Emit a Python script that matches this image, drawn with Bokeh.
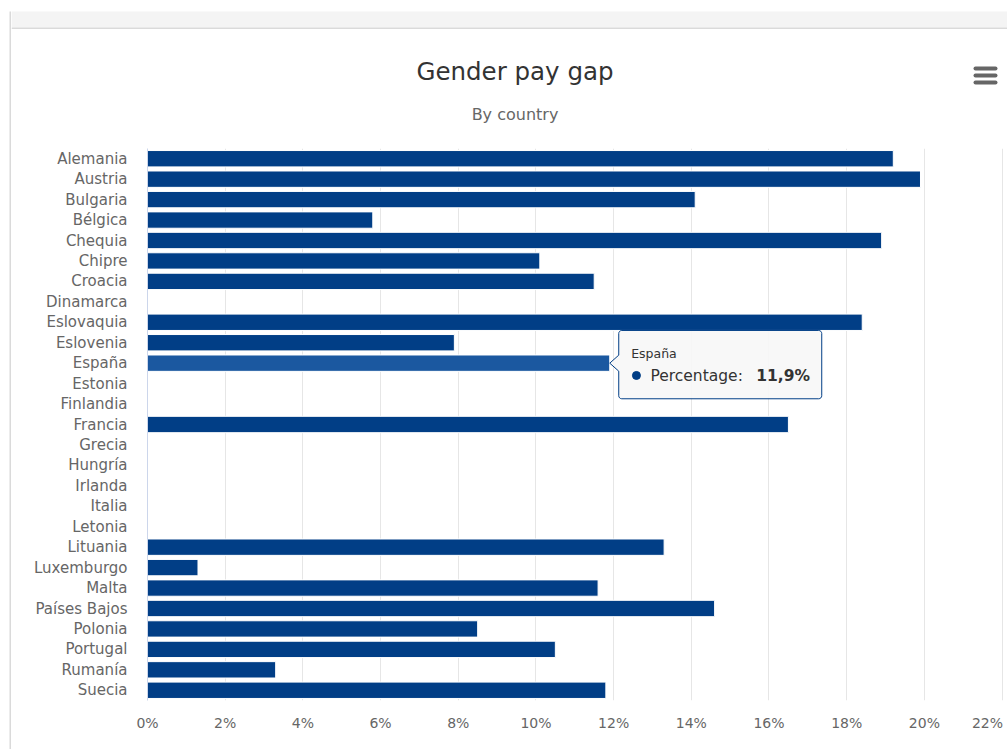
import math
from bokeh.plotting import figure
from bokeh.models import (FactorRange, Range1d, FixedTicker, ColumnDataSource,
                          PrintfTickFormatter)
from bokeh.layouts import row, column
from bokeh.core.properties import value
from bokeh.embed import file_html
from bokeh.resources import INLINE

# ---------------- data ----------------
countries = ["Alemania", "Austria", "Bulgaria", "Bélgica", "Chequia", "Chipre", "Croacia",
             "Dinamarca", "Eslovaquia", "Eslovenia", "España", "Estonia", "Finlandia",
             "Francia", "Grecia", "Hungría", "Irlanda", "Italia", "Letonia", "Lituania",
             "Luxemburgo", "Malta", "Países Bajos", "Polonia", "Portugal", "Rumanía", "Suecia"]
percentages = [19.2, 19.9, 14.1, 5.8, 18.9, 10.1, 11.5,
               None, 18.4, 7.9, 11.9, None, None,
               16.5, None, None, None, None, None, 13.3,
               1.3, 11.6, 14.6, 8.5, 10.5, 3.3, 11.8]
x_ticks = [0, 2, 4, 6, 8, 10, 12, 14, 16, 18, 20, 22]
title_text = "Gender pay gap"
subtitle_text = "By country"
series_name = "Percentage"
hovered_country = "España"

# ---------------- styling / layout ----------------
FONT = "DejaVu Sans"
BAR = "#013e86"
BAR_HOVER = "#1b58a0"
PAGE_W, PAGE_H = 1007, 749
STRIP_W = 11
HEAD_H = 140
W, H = PAGE_W - STRIP_W, PAGE_H - HEAD_H
ML, MR, MT, MB = 136, 0, 8, 49
X_END = 22.14
n = len(countries)


def bare(fig):
    fig.grid.visible = False
    fig.outline_line_color = None
    fig.frame_align = False
    return fig


# left border strip of the chart container
strip = bare(figure(width=STRIP_W, height=PAGE_H, x_range=Range1d(0, STRIP_W),
                    y_range=Range1d(PAGE_H, 0), output_backend="svg", toolbar_location=None,
                    min_border=0, x_axis_location=None, y_axis_location=None, title=None))
strip.quad(left=[9], right=[11], top=[11], bottom=[PAGE_H], fill_color="#dadada",
           line_color=None)

# header: top band, title, subtitle, menu icon
head = bare(figure(width=W, height=HEAD_H, x_range=Range1d(STRIP_W, PAGE_W),
                   y_range=Range1d(HEAD_H, 0), output_backend="svg", toolbar_location=None,
                   min_border=0, x_axis_location=None, y_axis_location=None, title=None))
head.quad(left=[STRIP_W], right=[PAGE_W], top=[11], bottom=[27], fill_color="#f4f4f4",
          line_color=None)
head.quad(left=[STRIP_W], right=[PAGE_W], top=[27], bottom=[28.5], fill_color="#dadada",
          line_color=None)
head.text(x=[514.5], y=[70.5], text=[title_text], text_font=value(FONT),
          text_font_size="24.5px", text_color="#333333", text_align="center",
          text_baseline="alphabetic")
head.text(x=[514.5], y=[114.0], text=[subtitle_text], text_font=value(FONT),
          text_font_size="16px", text_color="#666666", text_align="center",
          text_baseline="alphabetic")
head.segment(x0=[975, 975, 975], x1=[995, 995, 995], y0=[68, 75, 82], y1=[68, 75, 82],
             line_color="#666666", line_width=4, line_cap="round")

# main chart
p = figure(width=W, height=H,
           x_range=Range1d(0, X_END),
           y_range=FactorRange(factors=list(reversed(countries))),
           output_backend="svg", toolbar_location=None, title=None,
           min_border_left=ML, min_border_right=MR,
           min_border_top=MT, min_border_bottom=MB,
           outline_line_color=None,
           background_fill_color="white", border_fill_color="white")
p.frame_align = False

ys, rights, colors = [], [], []
for c, v in zip(countries, percentages):
    if v is None:
        continue
    ys.append(c)
    rights.append(v)
    colors.append(BAR_HOVER if c == hovered_country else BAR)
src = ColumnDataSource(dict(y=ys, right=rights, color=colors))
p.hbar(y="y", left=0, right="right", height=0.8, fill_color="color",
       line_color="white", line_width=1, source=src)

p.yaxis.axis_line_color = "#ccd6eb"
p.yaxis.major_tick_line_color = None
p.yaxis.minor_tick_line_color = None
p.yaxis.major_label_text_font = FONT
p.yaxis.major_label_text_font_size = "15px"
p.yaxis.major_label_text_color = "#666666"
p.yaxis.major_label_standoff = 14

p.xaxis.ticker = FixedTicker(ticks=x_ticks)
p.xaxis.formatter = PrintfTickFormatter(format="%d%%")
# last label is justified inside the chart edge, as the original does
p.xaxis.major_label_overrides = {x_ticks[-1]: f"{x_ticks[-1]}%\u00a0"}
p.xaxis.axis_line_color = None
p.xaxis.major_tick_line_color = None
p.xaxis.minor_tick_line_color = None
p.xaxis.major_label_text_font = FONT
p.xaxis.major_label_text_font_size = "14px"
p.xaxis.major_label_text_color = "#666666"
p.xaxis.major_label_standoff = 8

p.xgrid.ticker = FixedTicker(ticks=x_ticks)
p.xgrid.grid_line_color = "#e6e6e6"
p.ygrid.grid_line_color = None

# ---------------- static tooltip on the hovered bar ----------------
idx = countries.index(hovered_country)
v = percentages[idx]
yc = (n - 1 - idx) + 0.5  # synthetic coordinate of the factor
PXX = (W - ML - MR) / X_END
PXY = (H - MT - MB) / n


def pt(dx, dy):
    return v + dx / PXX, yc - dy / PXY


L, R, T, B, r, a = 9.0, 212.0, -32.7, 35.6, 3.0, 8.0
poly = [(0, 0), (L, -a), (L, T + r)]
for k in range(1, 4):
    ang = math.pi + k * (math.pi / 2) / 4
    poly.append((L + r + r * math.cos(ang), T + r + r * math.sin(ang)))
poly += [(L + r, T), (R - r, T)]
for k in range(1, 4):
    ang = 1.5 * math.pi + k * (math.pi / 2) / 4
    poly.append((R - r + r * math.cos(ang), T + r + r * math.sin(ang)))
poly += [(R, T + r), (R, B - r)]
for k in range(1, 4):
    ang = k * (math.pi / 2) / 4
    poly.append((R - r + r * math.cos(ang), B - r + r * math.sin(ang)))
poly += [(R - r, B), (L + r, B)]
for k in range(1, 4):
    ang = math.pi / 2 + k * (math.pi / 2) / 4
    poly.append((L + r + r * math.cos(ang), B - r + r * math.sin(ang)))
poly += [(L, B - r), (L, a)]
px = [pt(dx, dy)[0] for dx, dy in poly]
py = [pt(dx, dy)[1] for dx, dy in poly]
p.patch(px, py, fill_color="#f7f7f7", fill_alpha=0.9, line_color=BAR, line_width=1)

hx, hy = pt(21.4, -9.5)
p.text(x=[hx], y=[hy], text=[hovered_country], text_font=value(FONT),
       text_font_size="12.5px", text_color="#333333", text_baseline="alphabetic",
       text_align="left")
bx, by = pt(26.7, 12.3)
p.scatter(x=[bx], y=[by], size=8, marker="circle", fill_color=BAR, line_color=BAR)
sx, sy = pt(40.7, 13.0)
p.text(x=[sx], y=[sy], text=[f"{series_name}: "], text_font=value(FONT),
       text_font_size="15.5px", text_color="#333333", text_baseline="alphabetic",
       text_align="left")
vx, vy = pt(146.5, 13.0)
p.text(x=[vx], y=[vy], text=[f"{v:.1f}".replace(".", ",") + "%"], text_font=value(FONT),
       text_font_size="15.5px", text_font_style="bold", text_color="#333333",
       text_baseline="alphabetic", text_align="left")

layout = row(strip, column(head, p, spacing=0), spacing=0)
open("out.html", "w").write(file_html(layout, INLINE))
